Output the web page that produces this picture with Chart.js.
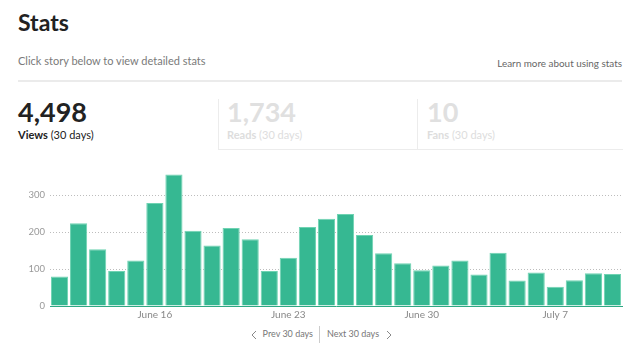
<!DOCTYPE html>
<html>
<head>
<meta charset="utf-8">
<script src="https://cdn.jsdelivr.net/npm/chart.js@4"></script>
<style>
  html, body { margin:0; padding:0; background:#fff; width:640px; height:354px; overflow:hidden; font-family: Lato, "Noto Sans", sans-serif; }
  .abs { position:absolute; white-space:nowrap; }
  #title { left:18px; top:8px; font-size:23px; font-weight:700; color:#222; }
  #sub { left:18px; top:54px; font-size:11px; color:#7a7a7a; }
  #learn { right:18px; top:57px; font-size:9.9px; color:#666; }
  #rule { left:18px; top:80px; width:604px; height:2px; background:#ebebeb; }
  .num { font-size:27px; font-weight:700; }
  .lab { font-size:11px; }
  #box2 { left:218px; top:99px; width:199px; height:50px; border-left:1px solid #ececec; border-bottom:1px solid #ececec; }
  #box3 { left:417px; top:99px; width:205px; height:50px; border-left:1px solid #ececec; border-bottom:1px solid #ececec; }
  .nav { top:328px; font-size:9px; color:#777; }
  #chartwrap { position:absolute; left:0; top:155px; width:640px; height:169px; }
</style>
</head>
<body>
<div class="abs" id="title">Stats</div>
<div class="abs" id="sub">Click story below to view detailed stats</div>
<div class="abs" id="learn">Learn more about using stats</div>
<div class="abs" id="rule"></div>

<div class="abs" style="left:18px;top:95px;color:#222;"><div class="num">4,498</div></div>
<div class="abs lab" style="left:18px;top:128px;color:#222;"><b>Views</b> (30 days)</div>

<div class="abs" id="box2"></div>
<div class="abs" style="left:227px;top:95px;color:#e0e0e0;"><div class="num">1,734</div></div>
<div class="abs lab" style="left:227px;top:128px;color:#ddd;"><b>Reads</b> (30 days)</div>

<div class="abs" id="box3"></div>
<div class="abs" style="left:427px;top:95px;color:#e0e0e0;"><div class="num">10</div></div>
<div class="abs lab" style="left:427px;top:128px;color:#ddd;"><b>Fans</b> (30 days)</div>

<div id="chartwrap"><canvas id="c" width="640" height="169"></canvas></div>

<svg class="abs" style="left:251px;top:330px;" width="6" height="10"><polyline points="5,1 1,5 5,9" fill="none" stroke="#888" stroke-width="1"/></svg>
<div class="abs nav" style="right:327px;">Prev 30 days</div>
<div class="abs" style="left:319px;top:326px;width:1px;height:17px;background:#ccc;"></div>
<div class="abs nav" style="left:327px;">Next 30 days</div>
<svg class="abs" style="left:386px;top:330px;" width="6" height="10"><polyline points="1,1 5,5 1,9" fill="none" stroke="#888" stroke-width="1"/></svg>

<script>
const dates = ["June 11","June 12","June 13","June 14","June 15","June 16","June 17","June 18","June 19","June 20",
  "June 21","June 22","June 23","June 24","June 25","June 26","June 27","June 28","June 29","June 30",
  "July 1","July 2","July 3","July 4","July 5","July 6","July 7","July 8","July 9","July 10"];
const views = [80,224,154,95,123,279,356,204,164,211,181,95,131,214,236,249,192,143,116,97,110,123,85,144,69,91,52,70,89,87];
const shownTicks = ["June 16","June 23","June 30","July 7"];
const yTicks = [0,100,200,300];

new Chart(document.getElementById('c'), {
  type: 'bar',
  data: {
    labels: dates,
    datasets: [{
      data: views,
      backgroundColor: '#36b892',
      borderColor: '#6fd3b2',
      borderWidth: {top:1, left:1, right:1, bottom:0},
      borderSkipped: 'bottom',
      categoryPercentage: 1.0,
      barPercentage: 0.9
    }]
  },
  options: {
    responsive: false,
    animation: false,
    events: [],
    layout: { padding: { left: 0, right: 18, top: 0, bottom: 0 } },
    plugins: { legend: { display: false }, tooltip: { enabled: false } },
    scales: {
      x: {
        grid: { display: false, drawTicks: false },
        border: { display: true, color: '#2fa883', width: 1 },
        ticks: {
          autoSkip: false, maxRotation: 0, color: '#888',
          font: { family: 'Lato', size: 10 }, padding: 3,
          callback: function(v, i) { const l = this.getLabelForValue(v); return shownTicks.includes(l) ? l : ''; }
        }
      },
      y: {
        min: 0, max: 380,
        afterFit: s => { s.width = 50; },
        afterBuildTicks: s => { s.ticks = yTicks.map(v => ({value: v})); },
        grid: { color: '#bdbdbd', drawTicks: false, lineWidth: 1, borderDash: [1, 2] },
        border: { display: false, dash: [1, 2] },
        ticks: { color: '#999', font: { family: 'Lato', size: 9.5 }, padding: 5 }
      }
    }
  }
});
</script>
</body>
</html>
